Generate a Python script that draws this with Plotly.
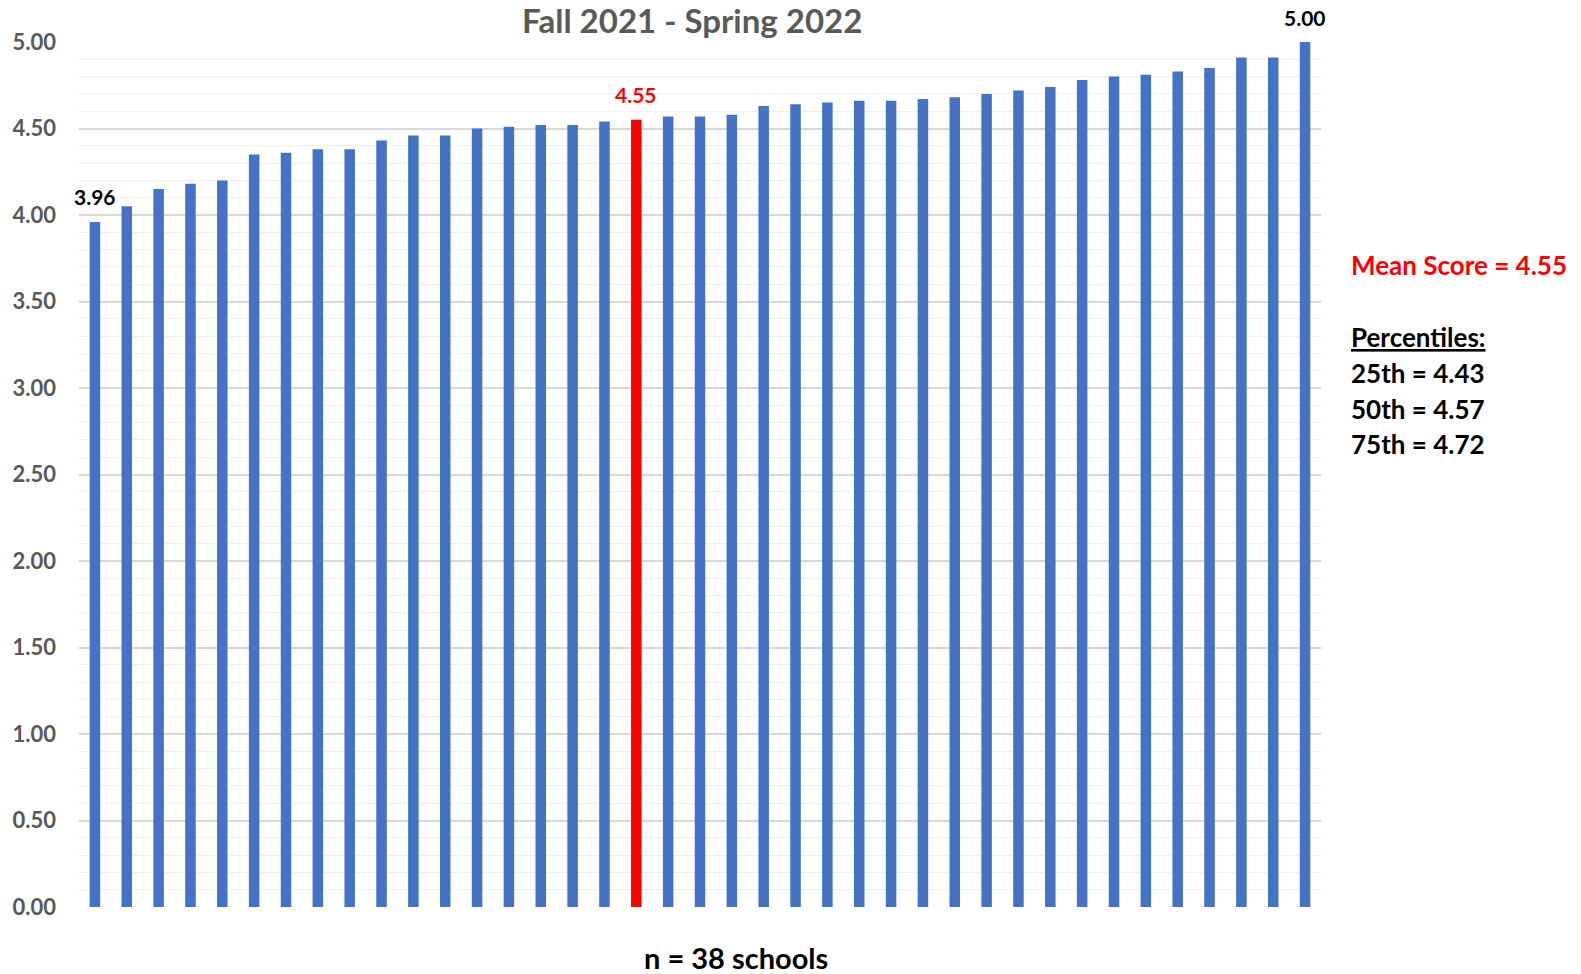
import plotly.graph_objects as go

# School mean scores, sorted ascending, with the overall mean inserted in rank order
schools = [f"School {i}" for i in range(1, 39)]
scores = [3.96, 4.05, 4.15, 4.18, 4.20, 4.35, 4.36, 4.38, 4.38, 4.43,
          4.46, 4.46, 4.50, 4.51, 4.52, 4.52, 4.54,
          4.57, 4.57, 4.58, 4.63, 4.64, 4.65, 4.66, 4.66, 4.67, 4.68,
          4.70, 4.72, 4.74, 4.78, 4.80, 4.81, 4.83, 4.85, 4.91, 4.91, 5.00]
mean_score = 4.55
mean_rank = 17  # number of schools below the mean

percentile_names = ["25th", "50th", "75th"]
percentile_values = [4.43, 4.57, 4.72]

title_text = "Fall 2021 - Spring 2022"
footer_text = "n = 38 schools"

BLUE = "#4472C4"
RED = "#FF0000"
GRAY = "#595959"
FONT = "Lato"

W, H = 1581, 974
M_L, M_R, M_T, M_B = 79, 260, 42, 67
PLOT_W = W - M_L - M_R
PLOT_H = H - M_T - M_B

categories = schools[:mean_rank] + ["Mean"] + schools[mean_rank:]
values = scores[:mean_rank] + [mean_score] + scores[mean_rank:]
colors = [RED if c == "Mean" else BLUE for c in categories]

fig = go.Figure(
    go.Bar(
        x=categories,
        y=values,
        marker=dict(color=colors, line=dict(width=0)),
        hoverinfo="x+y",
    )
)

fig.update_layout(
    width=W,
    height=H,
    margin=dict(l=M_L, r=M_R, t=M_T, b=M_B),
    paper_bgcolor="white",
    plot_bgcolor="white",
    bargap=0.67,
    showlegend=False,
    xaxis=dict(
        range=[-0.5, len(categories) - 0.5],
        showticklabels=False,
        showgrid=False,
        zeroline=False,
        showline=False,
        ticks="",
    ),
    yaxis=dict(
        range=[0, 5],
        dtick=0.5,
        tickformat=".2f",
        showgrid=True,
        gridcolor="#D9D9D9",
        gridwidth=2,
        zeroline=False,
        showline=False,
        ticks="",
        ticklabelstandoff=22,
        tickfont=dict(family=FONT, size=22, color=GRAY, weight="bold"),
        minor=dict(dtick=0.1, showgrid=True, gridcolor="#F0F0F0", gridwidth=1),
    ),
)


def px_x(x):
    return (x - M_L) / PLOT_W


def px_y(y):
    return (H - M_B - y) / PLOT_H


annotations = [
    dict(text=title_text, x=px_x(692), y=px_y(20), borderpad=0,
         font=dict(family=FONT, size=33, color=GRAY, weight="bold")),
    dict(text=footer_text, x=px_x(736), y=px_y(958),
         font=dict(family=FONT, size=29, color="black", weight="bold")),
    dict(text=f"Mean Score = {mean_score:.2f}", x=px_x(1349), xanchor="left",
         y=px_y(265), font=dict(family=FONT, size=26, color=RED, weight="bold")),
    dict(text="<u>Percentiles:</u>", x=px_x(1349), xanchor="left",
         y=px_y(337), font=dict(family=FONT, size=26, color="black", weight="bold")),
]
for k, (name, val) in enumerate(zip(percentile_names, percentile_values)):
    annotations.append(
        dict(text=f"{name} = {val:.2f}", x=px_x(1349), xanchor="left",
             y=px_y(373 + 35.5 * k),
             font=dict(family=FONT, size=26, color="black", weight="bold"))
    )
for a in annotations:
    a.update(xref="paper", yref="paper", yanchor="middle", showarrow=False)

# Value labels above the lowest school, the mean and the highest school
for i in (0, mean_rank, len(values) - 1):
    annotations.append(
        dict(x=categories[i], y=values[i], xref="x", yref="y",
             text=f"{values[i]:.2f}", showarrow=False,
             yanchor="middle", yshift=25,
             font=dict(family=FONT, size=21, weight="bold",
                       color=RED if categories[i] == "Mean" else "black"))
    )

fig.update_layout(annotations=annotations)

fig.write_html("out.html")
